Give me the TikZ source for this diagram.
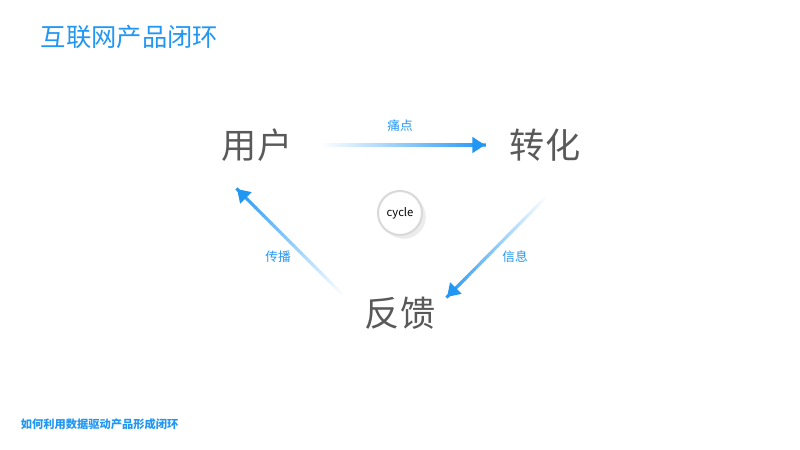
\documentclass[tikz,border=0pt]{standalone}
\usepackage{fontspec}
\setmainfont{Noto Sans CJK SC}
\usetikzlibrary{calc,arrows.meta,shadows}
\definecolor{loopblue}{HTML}{2196F3}
\definecolor{stagegray}{HTML}{595959}
\tikzstyle{stage}=[font=\fontsize{25}{25}\selectfont,text=stagegray]
\tikzstyle{edgelabel}=[font=\fontsize{9}{9}\selectfont,text=loopblue]
% gradient arrow: white at #1, blue at #2
\newcommand\fadearrow[2]{
    \foreach \i in {0,...,39}{
        \pgfmathsetmacro\shadeval{2.5*\i}
        \draw[line width=2.2pt,loopblue!\shadeval!white]
            ($(#1)!\i/40!(#2)$) -- ($(#1)!\i/40+0.03!(#2)$);
    }
    \draw[line width=2.2pt,loopblue,-{Triangle[length=9pt,width=11pt]}]
        ($(#1)!0.95!(#2)$) -- (#2);
}

\begin{document}
\begin{tikzpicture}[x=0.025cm,y=-0.025cm]
    \useasboundingbox (0,0) rectangle (800,449);
    \node [anchor=west,text=loopblue,font=\fontsize{18}{18}\selectfont] (title) at (36,37) {互联网产品闭环};
    \node [stage] (user) at (257,145) {用户};
    \node [stage] (convert) at (545,145) {转化};
    \node [stage] (feedback) at (400,313) {反馈};
    \node [circle,draw=black!15,line width=1.5pt,fill=white,minimum size=1.1cm,
           font=\fontsize{8}{8}\selectfont,drop shadow={opacity=0.15}] (cycle) at (400,213) {cycle};

    \coordinate (a1) at (320,145);
    \coordinate (a2) at (485,145);
    \coordinate (b1) at (548,195);
    \coordinate (b2) at (447,297);
    \coordinate (c1) at (345,297);
    \coordinate (c2) at (237,189);
    \fadearrow{a1}{a2}
    \fadearrow{b1}{b2}
    \fadearrow{c1}{c2}

    \node [edgelabel] (pain) at (400,126) {痛点};
    \node [edgelabel] (info) at (515,257) {信息};
    \node [edgelabel] (spread) at (278,257) {传播};

    \node [anchor=west,text=loopblue,font=\fontsize{8}{8}\selectfont\bfseries] (footer) at (16,424) {如何利用数据驱动产品形成闭环};
\end{tikzpicture}
\end{document}
